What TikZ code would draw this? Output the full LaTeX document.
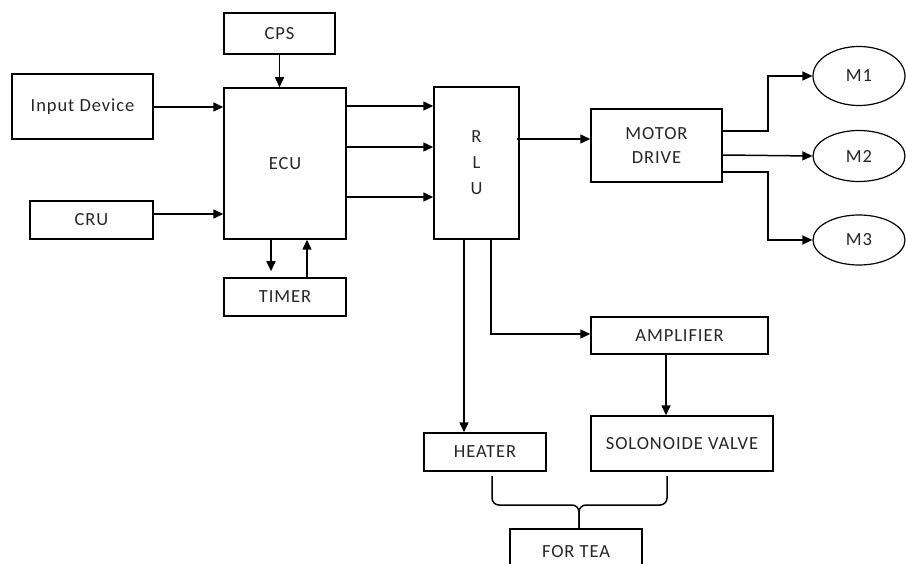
\documentclass[tikz,border=0pt]{standalone}
\usepackage{fontspec}
\setmainfont{Carlito}[LetterSpace=5]
\usetikzlibrary{arrows.meta,shapes.geometric}
\begin{document}
\begin{tikzpicture}[x=1pt,y=-1pt,
  box/.style={draw,line width=1.5pt,rectangle,inner sep=0pt,align=center,text=black!85,font=\fontsize{18.5}{24}\selectfont},
  oval/.style={draw,line width=1.2pt,ellipse,inner sep=0pt,text=black!85,font=\fontsize{18.5}{24}\selectfont},
  arr/.style={line width=1.5pt,-{Triangle[length=10pt,width=9pt]}},
  ln/.style={line width=1.5pt}]
\clip (0,0) rectangle (906,564);
\fill[white] (0,0) rectangle (906,564);
% nodes
\node[box,minimum width=111pt,minimum height=41pt] (cps) at (279.5,33.5) {CPS};
\node[box,minimum width=141pt,minimum height=65pt] (inp) at (82.5,106.5) {Input Device};
\node[box,minimum width=122pt,minimum height=151pt] (ecu) at (285,163.5) {ECU};
\node[box,minimum width=123pt,minimum height=38pt] (cru) at (91.5,220) {CRU};
\node[box,minimum width=122pt,minimum height=38pt] (timer) at (285,297) {TIMER};
\node[box,minimum width=85pt,minimum height=152pt,font=\fontsize{18.5}{26}\selectfont] (rlu) at (476.5,163) {R\\L\\U};
\node[box,minimum width=131pt,minimum height=73pt] (motor) at (656.5,145.5) {MOTOR\\DRIVE};
\node[oval,minimum width=92pt,minimum height=59pt] (m1) at (859,76) {M1};
\node[oval,minimum width=92pt,minimum height=51pt] (m2) at (859,156) {M2};
\node[oval,minimum width=92pt,minimum height=50pt] (m3) at (859,240) {M3};
\node[box,minimum width=177pt,minimum height=37pt] (amp) at (679.5,335.5) {AMPLIFIER};
\node[box,minimum width=182pt,minimum height=55pt] (sol) at (682,443.5) {SOLONOIDE VALVE};
\node[box,minimum width=122pt,minimum height=38pt] (heat) at (485,452) {HEATER};
\node[box,minimum width=132pt,minimum height=46pt] (tea) at (576,552) {FOR TEA};
% connectors
\draw[arr] (inp.east |- 0,107) -- (ecu.west |- 0,107);
\draw[arr] (cru.east |- 0,214) -- (ecu.west |- 0,214);
\draw[arr] (cps.south) -- (cps.south |- ecu.north);
\draw[arr] (ecu.east |- 0,106) -- (rlu.west |- 0,106);
\draw[arr] (ecu.east |- 0,147) -- (rlu.west |- 0,147);
\draw[arr] (ecu.east |- 0,197) -- (rlu.west |- 0,197);
\draw[arr,shorten >=6pt] (ecu.south -| 271,0) -- (timer.north -| 271,0);
\draw[arr] (timer.north -| 307,0) -- (ecu.south -| 307,0);
\draw[arr] ([xshift=-3pt]rlu.east |- 0,139) -- (motor.west |- 0,139);
\draw[arr] (motor.east |- 0,131) -| (768,76) -- (m1.west);
\draw[arr] (motor.east |- 0,155) -- (m2.west);
\draw[arr] (motor.east |- 0,172) -| (768,240) -- (m3.west);
\draw[arr] (rlu.south -| 464,0) -- (heat.north -| 464,0);
\draw[arr] (rlu.south -| 491,0) |- (amp.west |- 0,334);
\draw[arr] (amp.south -| 666,0) -- (sol.north -| 666,0);
% brace
\draw[ln,rounded corners=7pt] (492,476) -- (492,505) -- (579,505) -- (579,529);
\draw[ln,rounded corners=7pt] (667,476) -- (667,505) -- (579,505) -- (579,529);
\end{tikzpicture}
\end{document}
